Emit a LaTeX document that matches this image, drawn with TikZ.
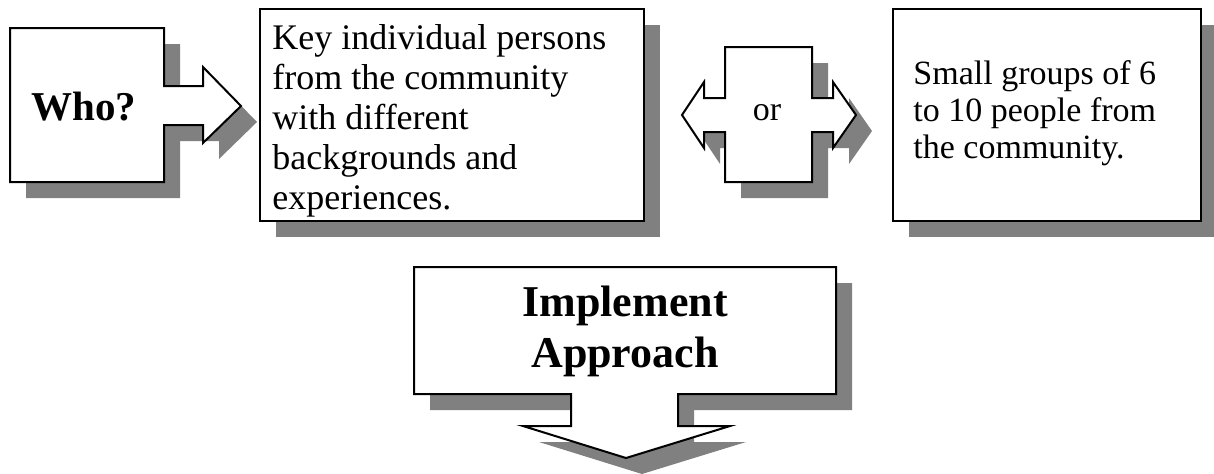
\documentclass[tikz,border=0pt]{standalone}
\usepackage{fontspec}
\setmainfont{Liberation Serif}
\usetikzlibrary{shadows}

\definecolor{shadowgray}{RGB}{128,128,128}

\tikzset{
  callout/.style={draw=black, line width=1pt, fill=white, line join=miter,
    drop shadow={shadow xshift=8pt, shadow yshift=-8pt, fill=shadowgray, opacity=1}},
  bodytext/.style={font=\fontsize{18}{20}\selectfont, align=left, inner sep=0pt},
  headtext/.style={font=\fontsize{20.5}{25}\selectfont\bfseries, align=center, inner sep=0pt},
}

\begin{document}
\begin{tikzpicture}[x=0.5pt,y=-0.5pt]
  \useasboundingbox (0,0) rectangle (1214,473);
  %Who? with arrow to the right
  \path[callout] (10,28) -- (164,28) -- (164,86) -- (203,86) -- (203,67) -- (241,106)
    -- (203,143) -- (203,125) -- (164,125) -- (164,182) -- (10,182) -- cycle;
  \node[headtext] (who) at (84,107) {Who?};
  %first group
  \path[callout] (260,9) rectangle (644,221);
  \node[bodytext, anchor=west] (keypersons) at (272,121)
    {Key individual persons\\from the community\\with different\\backgrounds and\\experiences.};
  %double arrow
  \path[callout] (725,47) -- (812,47) -- (812,98) -- (833,98) -- (833,82) -- (856,115)
    -- (833,148) -- (833,132) -- (812,132) -- (812,182) -- (725,182) -- (725,132)
    -- (704,132) -- (704,148) -- (682,115) -- (704,82) -- (704,98) -- (725,98) -- cycle;
  \node[bodytext, font=\fontsize{17}{20}\selectfont] (or) at (767,113) {or};
  %second group
  \path[callout] (893,9) rectangle (1201,221);
  \node[bodytext, font=\fontsize{17}{18.5}\selectfont, anchor=west] (smallgroups) at (913,113)
    {Small groups of 6\\to 10 people from\\the community.};
  %Implement with arrow down
  \path[callout] (414,267) -- (836,267) -- (836,394) -- (678,394) -- (678,426) -- (730,426)
    -- (626,458) -- (523,426) -- (571,426) -- (571,394) -- (414,394) -- cycle;
  \node[headtext, font=\fontsize{22}{25.5}\selectfont\bfseries] (implement) at (625,331)
    {Implement\\Approach};
\end{tikzpicture}
\end{document}
